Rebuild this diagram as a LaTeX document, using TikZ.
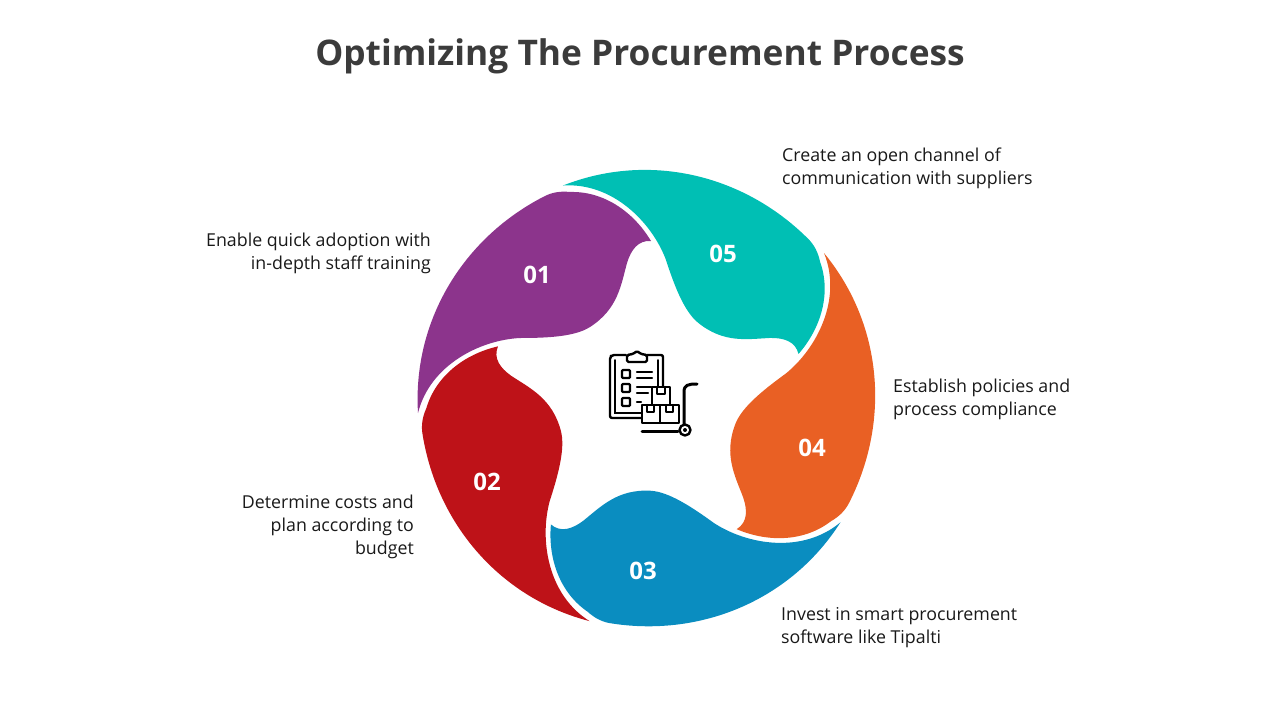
\documentclass[tikz,border=0pt]{standalone}
\usepackage{fontspec}
\setmainfont{Open Sans}
\usetikzlibrary{calc}
\definecolor{purplepetal}{HTML}{8C348C}
\definecolor{tealpetal}{HTML}{00BFB4}
\definecolor{orangepetal}{HTML}{E96024}
\definecolor{bluepetal}{HTML}{0A8DC0}
\definecolor{redpetal}{HTML}{BE1218}
\definecolor{titlegray}{HTML}{3B3B3B}
\tikzset{
  heading/.style={font=\fontsize{35.3}{40}\selectfont\bfseries,text=titlegray},
  number/.style={font=\fontsize{24}{28}\selectfont\bfseries,text=white},
  leftnote/.style={font=\fontsize{17.8}{23}\selectfont,align=right,anchor=east,inner sep=0pt,text=black!90},
  rightnote/.style={font=\fontsize{17.8}{23}\selectfont,align=left,anchor=west,inner sep=0pt,text=black!90},
  iconline/.style={draw=black,line width=2.4pt,line join=round,line cap=round},
  iconthin/.style={draw=black,line width=1.6pt,line cap=round}
}

\begin{document}
\begin{tikzpicture}[x=1pt,y=-1pt]
    \useasboundingbox (0,0) rectangle (1280,720);
    \node[heading] (title) at (640,56) {Optimizing The Procurement Process};
    % one petal, turned round the centre
    \foreach \turn/\col in {0/purplepetal,-72/tealpetal,-144/orangepetal,-216/bluepetal,-288/redpetal}{
      \fill[\col,rotate around={\turn:(647,399)}] (418,413)
        .. controls (412.4,322) and (462,239) .. (543,197)
        .. controls (552,192) and (561,191) .. (570,192)
        .. controls (603,191) and (633,211) .. (651,241)
        .. controls (638,240) and (631,250) .. (627,263)
        .. controls (621,285) and (618,309) .. (590,327)
        .. controls (575,336.6) and (548,338) .. (520,338)
        .. controls (480,340) and (430,365) .. (418,413) -- cycle;
    }
    \node[number] (n01) at (537,275) {01};
    \node[number] (n05) at (723,254) {05};
    \node[number] (n04) at (812,448) {04};
    \node[number] (n03) at (643,571) {03};
    \node[number] (n02) at (487,482) {02};
    \node[leftnote] (t01) at (431,253) {Enable quick adoption with\\in-depth staff training};
    \node[leftnote] (t02) at (414,527) {Determine costs and\\plan according to\\budget};
    \node[rightnote] (t03) at (781,628) {Invest in smart procurement\\software like Tipalti};
    \node[rightnote] (t04) at (893,399) {Establish policies and\\process compliance};
    \node[rightnote] (t05) at (782,168) {Create an open channel of\\communication with suppliers};
    % clipboard
    \draw[iconline,rounded corners=2pt] (626,355)--(612,355)--(610,357)--(610,418)--(641,418);
    \draw[iconline,rounded corners=2pt] (647,355)--(663,355)--(663,387);
    \draw[iconthin] (615,360)--(615,413)--(641,413);
    \draw[iconthin] (658,360)--(658,387);
    \draw[iconline,fill=white,rounded corners=1.5pt] (627,362)--(627,355)--(633,354)--(637,351)--(641,354)--(647,355)--(647,362)--cycle;
    \foreach \rowy in {370,384,398}{
      \draw[iconline,rounded corners=1pt] (622,\rowy) rectangle (630,\rowy+8);
    }
    \draw[iconline] (637,372)--(652,372) (637,378)--(652,378) (637,387)--(651,387) (637,393)--(648,393) (637,402)--(641,402);
    % boxes
    \draw[iconline,fill=white] (652,387) rectangle (670,405);
    \draw[iconline,fill=white] (642,405) rectangle (660,423);
    \draw[iconline,fill=white] (660,405) rectangle (679,423);
    \draw[iconline] (657,387)--(657,394)--(665,394)--(665,387);
    \draw[iconline] (647,405)--(647,412)--(654,412)--(654,405);
    \draw[iconline] (666,405)--(666,412)--(673,412)--(673,405);
    % trolley
    \draw[iconline,line width=3pt] (684,425)--(684,392) .. controls (684,385) and (688,384) .. (697,384);
    \draw[iconline,line width=3pt] (642,431)--(678,431);
    \draw[iconline,fill=white] (685,430) circle (5.5);
    \fill (685,430) circle (2);
\end{tikzpicture}
\end{document}
